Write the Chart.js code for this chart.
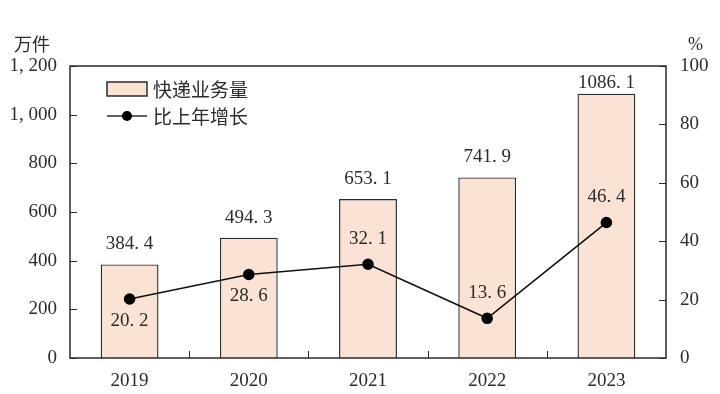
<!DOCTYPE html>
<html>
<head>
<meta charset="utf-8">
<script src="https://cdn.jsdelivr.net/npm/chart.js@4.4.0/dist/chart.umd.min.js"></script>
<style>
  html, body { margin: 0; padding: 0; background: #fff; }
  #wrap { width: 720px; height: 394px; }
</style>
</head>
<body>
<div id="wrap"><canvas id="chart" width="720" height="394"></canvas></div>
<script>
const years = ['2019', '2020', '2021', '2022', '2023'];
const volume = [384.4, 494.3, 653.1, 741.9, 1086.1];   // 万件
const growth = [20.2, 28.6, 32.1, 13.6, 46.4];         // %
const growthLabelBelow = [true, true, false, false, false];
const leftTicks = [0, 200, 400, 600, 800, 1000, 1200];
const rightTicks = [0, 20, 40, 60, 80, 100];

const numFont = '"Liberation Serif", "DejaVu Serif", serif';
const cjkFont = '"Noto Sans CJK SC", "Noto Sans", sans-serif';
const ink = '#2b2b2b';
const barFill = '#fae3d4';

// "384.4" -> "384. 4", "1200" -> "1, 200" as in the source graphic
const fmtDec = v => v.toFixed(1).replace('.', '. ');
const fmtThousands = v => v >= 1000 ? Math.floor(v / 1000) + ', ' + String(v % 1000).padStart(3, '0') : String(v);

// frame, inward ticks, unit titles, value labels and legend
const decorPlugin = {
  id: 'decor',
  afterDatasetsDraw(chart) {
    const { ctx, chartArea: a, scales } = chart;
    const yL = scales.y, yR = scales.y1, x = scales.x;
    ctx.save();
    ctx.strokeStyle = ink;
    ctx.lineWidth = 1.5;
    ctx.strokeRect(a.left, a.top, a.right - a.left, a.bottom - a.top);

    // inward ticks
    ctx.beginPath();
    leftTicks.forEach(v => {
      const py = Math.round(yL.getPixelForValue(v)) + 0.5;
      ctx.moveTo(a.left, py); ctx.lineTo(a.left + 7, py);
    });
    rightTicks.forEach(v => {
      const py = Math.round(yR.getPixelForValue(v)) + 0.5;
      ctx.moveTo(a.right, py); ctx.lineTo(a.right - 7, py);
    });
    for (let i = 1; i < years.length; i++) {
      const px = Math.round((x.getPixelForValue(i - 1) + x.getPixelForValue(i)) / 2) + 0.5;
      ctx.moveTo(px, a.bottom); ctx.lineTo(px, a.bottom - 7);
    }
    ctx.lineWidth = 1;
    ctx.stroke();

    // unit titles
    ctx.fillStyle = ink;
    ctx.font = '18px ' + cjkFont;
    ctx.textBaseline = 'middle';
    ctx.textAlign = 'left';
    ctx.fillText('万件', 14, 44);
    ctx.font = '18px ' + numFont;
    ctx.fillText('%', 688, 45);

    // value labels
    ctx.font = '19px ' + numFont;
    ctx.textAlign = 'center';
    chart.getDatasetMeta(0).data.forEach((bar, i) => {
      ctx.fillText(fmtDec(volume[i]), bar.x, Math.max(bar.y - 20, a.top + 17));
    });
    chart.getDatasetMeta(1).data.forEach((pt, i) => {
      ctx.fillText(fmtDec(growth[i]), pt.x, pt.y + (growthLabelBelow[i] ? 22 : -25));
    });

    // legend
    const lx = a.left + 37, ly1 = a.top + 23, ly2 = a.top + 50;
    ctx.fillStyle = barFill;
    ctx.fillRect(lx, ly1 - 7, 40, 14);
    ctx.lineWidth = 1.5;
    ctx.strokeRect(lx, ly1 - 7, 40, 14);
    ctx.beginPath();
    ctx.moveTo(lx, ly2); ctx.lineTo(lx + 40, ly2);
    ctx.stroke();
    ctx.fillStyle = '#000';
    ctx.beginPath();
    ctx.arc(lx + 20, ly2, 5, 0, Math.PI * 2);
    ctx.fill();
    ctx.fillStyle = ink;
    ctx.font = '19px ' + cjkFont;
    ctx.textAlign = 'left';
    ctx.fillText(chart.data.datasets[0].label, lx + 46, ly1 + 1);
    ctx.fillText(chart.data.datasets[1].label, lx + 46, ly2 + 1);
    ctx.restore();
  }
};

new Chart(document.getElementById('chart'), {
  data: {
    labels: years,
    datasets: [
      {
        type: 'bar',
        label: '快递业务量',
        data: volume,
        yAxisID: 'y',
        backgroundColor: barFill,
        borderColor: ink,
        borderWidth: 1.4,
        barPercentage: 0.485,
        categoryPercentage: 1,
        order: 2
      },
      {
        type: 'line',
        label: '比上年增长',
        data: growth,
        yAxisID: 'y1',
        borderColor: '#111',
        borderWidth: 1.6,
        pointRadius: 5,
        pointBackgroundColor: '#000',
        pointBorderColor: '#000',
        tension: 0,
        order: 1
      }
    ]
  },
  options: {
    responsive: false,
    animation: false,
    layout: { padding: { top: 66, left: 0, right: 0, bottom: 0 } },
    plugins: { legend: { display: false }, tooltip: { enabled: false } },
    scales: {
      x: {
        grid: { display: false, drawTicks: false },
        border: { display: false },
        ticks: { color: ink, font: { family: numFont, size: 19 }, padding: 12 },
        afterFit(s) { s.height = 36; }
      },
      y: {
        position: 'left',
        min: 0, max: 1200,
        afterBuildTicks(s) { s.ticks = leftTicks.map(v => ({ value: v })); },
        grid: { display: false, drawTicks: false },
        border: { display: false },
        ticks: { color: ink, font: { family: numFont, size: 19 }, padding: 13, callback: v => fmtThousands(v) },
        afterFit(s) { s.width = 70; }
      },
      y1: {
        position: 'right',
        min: 0, max: 100,
        afterBuildTicks(s) { s.ticks = rightTicks.map(v => ({ value: v })); },
        grid: { display: false, drawTicks: false },
        border: { display: false },
        ticks: { color: ink, font: { family: numFont, size: 19 }, padding: 14 },
        afterFit(s) { s.width = 54; }
      }
    }
  },
  plugins: [decorPlugin]
});
</script>
</body>
</html>
